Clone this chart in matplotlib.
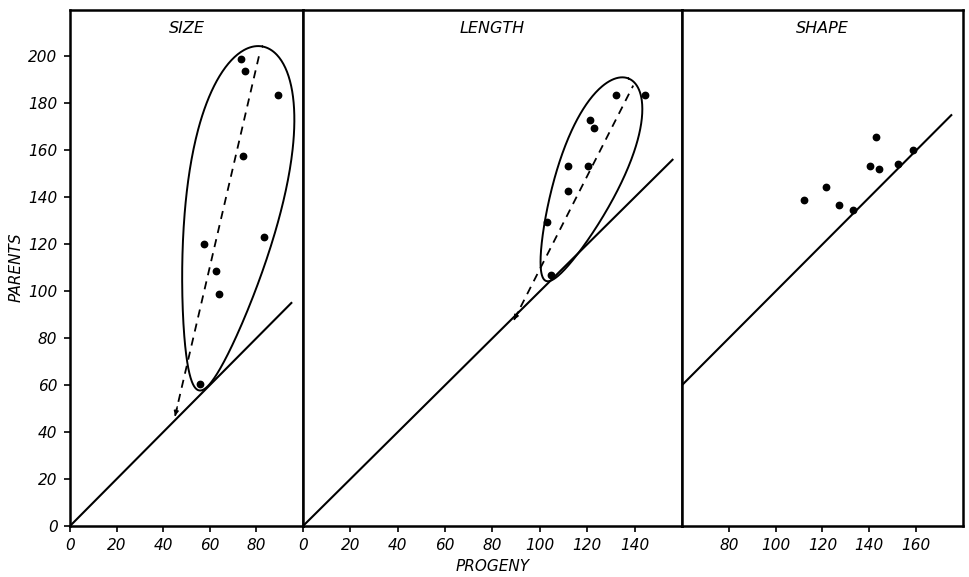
import matplotlib
matplotlib.use("Agg")
import matplotlib.pyplot as plt
import numpy as np

# ---------------- data ----------------
panel_titles = ["SIZE", "LENGTH", "SHAPE"]

size_x = [73.2, 75.3, 89.3, 74.2, 83.4, 57.3, 62.8, 64.0, 55.9]
size_y = [199.0, 194.0, 183.7, 157.4, 123.2, 120.3, 108.7, 98.8, 60.3]

length_x = [132.3, 144.3, 121.2, 122.8, 112.0, 120.3, 112.0, 103.2, 104.6]
length_y = [183.5, 183.5, 172.8, 169.7, 153.4, 153.4, 142.6, 129.6, 106.9]

shape_x = [112.0, 121.3, 126.9, 133.1, 140.3, 144.0, 143.0, 152.2, 158.6]
shape_y = [139.0, 144.3, 136.9, 134.8, 153.4, 152.2, 165.5, 154.4, 160.3]

# dashed trend lines (bottom end, top end)
size_trend_x = [45.1, 81.7]
size_trend_y = [46.9, 202.7]
length_trend_x = [89.1, 139.4]
length_trend_y = [87.8, 187.6]

# solid parent = progeny lines (x range)
size_equal_x = [0, 95]
length_equal_x = [0, 156]
shape_equal_x = [60, 175]

# x ranges / ticks
size_xlim = (0, 100)
length_xlim = (0, 160)
shape_xlim = (60, 180)
size_xticks = [0, 20, 40, 60, 80]
length_xticks = [0, 20, 40, 60, 80, 100, 120, 140]
shape_xticks = [80, 100, 120, 140, 160]
y_ticks = [0, 20, 40, 60, 80, 100, 120, 140, 160, 180, 200]
y_lim = (0, 220)

# enclosing outlines: centre x, centre y, half-length, half-width, angle, egg factor
size_outline = (69.0, 131.0, 74.5, 20.0, 79.5, 0.36)
length_outline = (120.0, 147.5, 46.5, 13.5, 68.0, 0.3)

# ---------------- figure ----------------
W, H = 970, 577
fig = plt.figure(figsize=(W / 100, H / 100), dpi=100)
fig.patch.set_facecolor("white")

bottom_px, top_px = 526, 9.5
def rect(left_px, right_px):
    return [left_px / W, 1 - bottom_px / H, (right_px - left_px) / W, (bottom_px - top_px) / H]

ax1 = fig.add_axes(rect(70, 303))
ax2 = fig.add_axes(rect(303, 682))
ax3 = fig.add_axes(rect(682, 963))
axes = [ax1, ax2, ax3]

font = dict(family="DejaVu Sans", style="italic")


def outline(ax, params):
    cx, cy, a, b, ang, k = params
    t = np.linspace(0, 2 * np.pi, 400)
    u = a * np.cos(t)
    v = b * np.sin(t) * (1 + k * np.cos(t))
    th = np.deg2rad(ang)
    x = cx + u * np.cos(th) - v * np.sin(th)
    y = cy + u * np.sin(th) + v * np.cos(th)
    ax.plot(x, y, color="black", lw=1.4, solid_capstyle="round")


def trend(ax, xs, ys):
    ax.plot(xs, ys, color="black", lw=1.3, linestyle=(0, (4.5, 3.5)))
    dx, dy = xs[1] - xs[0], ys[1] - ys[0]
    n = np.hypot(dx, dy)
    ax.annotate("", xy=(xs[0], ys[0]), xytext=(xs[0] + 4 * dx / n, ys[0] + 4 * dy / n),
                arrowprops=dict(arrowstyle="-|>", color="black", lw=1.0, mutation_scale=7,
                                shrinkA=0, shrinkB=0))


panels = [
    (ax1, size_xlim, size_xticks, size_x, size_y, size_equal_x),
    (ax2, length_xlim, length_xticks, length_x, length_y, length_equal_x),
    (ax3, shape_xlim, shape_xticks, shape_x, shape_y, shape_equal_x),
]

for (ax, xlim, xticks, px, py, eqx), title in zip(panels, panel_titles):
    ax.set_xlim(*xlim)
    ax.set_ylim(*y_lim)
    ax.plot(eqx, eqx, color="black", lw=1.5)
    ax.plot(px, py, "o", color="black", markersize=4.6, linestyle="none")
    ax.set_xticks(xticks)
    ax.set_xticklabels([str(v) for v in xticks], fontsize=11, **font)
    ax.tick_params(axis="x", direction="out", length=4, width=1.2, pad=5)
    for s in ax.spines.values():
        s.set_linewidth(1.8)
        s.set_color("black")
    ax.text(0.5, 0.964, title, transform=ax.transAxes, ha="center", va="center",
            fontsize=11.5, **font)
    ax.set_facecolor("white")

ax1.set_yticks(y_ticks)
ax1.set_yticklabels([str(v) for v in y_ticks], fontsize=11, **font)
ax1.tick_params(axis="y", direction="out", length=4, width=1.2, pad=5)
ax1.set_ylabel("PARENTS", fontsize=11, labelpad=3, **font)
for ax in (ax2, ax3):
    ax.set_yticks([])
ax2.set_xlabel("PROGENY", fontsize=11, labelpad=4, **font)

outline(ax1, size_outline)
outline(ax2, length_outline)
trend(ax1, size_trend_x, size_trend_y)
trend(ax2, length_trend_x, length_trend_y)

fig.savefig("out.png", dpi=100, facecolor="white")
